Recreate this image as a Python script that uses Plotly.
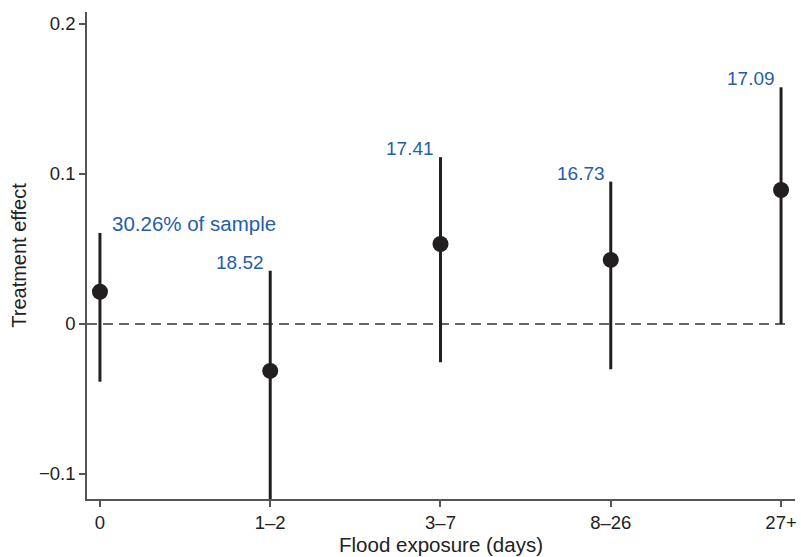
import plotly.graph_objects as go

categories = ["0", "1–2", "3–7", "8–26", "27+"]
effect = [0.0215, -0.0313, 0.0533, 0.0427, 0.0893]
ci_low = [-0.0385, -0.13, -0.0255, -0.0302, 0.0]
ci_high = [0.0607, 0.0355, 0.1112, 0.0949, 0.1578]
share_labels = ["30.26% of sample", "18.52", "17.41", "16.73", "17.09"]

xi = list(range(len(categories)))
FONT = "Liberation Sans, Arial, Helvetica, sans-serif"
BLUE = "#1f5eab"
DARK = "#231f20"
AXIS = "#555555"

fig = go.Figure()
fig.add_trace(go.Scatter(
    x=xi, y=effect, mode="markers",
    marker=dict(size=16, color=DARK),
    error_y=dict(type="data", symmetric=False,
                 array=[h - e for h, e in zip(ci_high, effect)],
                 arrayminus=[e - l for e, l in zip(effect, ci_low)],
                 thickness=3, width=0, color=DARK),
    cliponaxis=True, showlegend=False,
))

fig.add_shape(type="line", xref="paper", yref="y", x0=0, x1=0.993, y0=0, y1=0,
              line=dict(color="#333333", width=1.5, dash="10px,6px"), layer="below")

for i, (lab, hi) in enumerate(zip(share_labels, ci_high)):
    if i == 0:
        fig.add_annotation(x=xi[i], y=hi, text=lab, showarrow=False,
                           xanchor="left", yanchor="bottom", xshift=10, yshift=-4,
                           font=dict(color=BLUE, size=20.5, family=FONT))
    else:
        fig.add_annotation(x=xi[i], y=hi, text=lab, showarrow=False,
                           xanchor="right", yanchor="bottom", xshift=-4, yshift=-4,
                           font=dict(color=BLUE, size=19, family=FONT))

fig.update_layout(
    width=801, height=557,
    margin=dict(l=87, r=4, t=12, b=58),
    plot_bgcolor="white", paper_bgcolor="white",
    font=dict(family=FONT, color="#222222", size=18),
    xaxis=dict(
        range=[-0.076, 4.082], tickmode="array", tickvals=xi, ticktext=categories,
        showline=True, linecolor=AXIS, linewidth=1.5, ticks="outside", ticklen=6,
        tickcolor=AXIS, tickwidth=1.5, showgrid=False, zeroline=False,
        tickfont=dict(size=18.5),
        title=dict(text="Flood exposure (days)", font=dict(size=20.5), standoff=0),
    ),
    yaxis=dict(
        range=[-0.1167, 0.208], tickvals=[-0.1, 0, 0.1, 0.2],
        ticktext=["−0.1", "0", "0.1", "0.2"],
        showline=True, linecolor=AXIS, linewidth=1.5, ticks="outside", ticklen=6,
        tickcolor=AXIS, tickwidth=1.5, showgrid=False, zeroline=False,
        tickfont=dict(size=18.5),
        title=dict(text="Treatment effect", font=dict(size=20), standoff=7),
    ),
)

fig.write_html("out.html", config={"displayModeBar": False},
               post_script="document.body.style.margin='0';document.body.style.padding='0';")
